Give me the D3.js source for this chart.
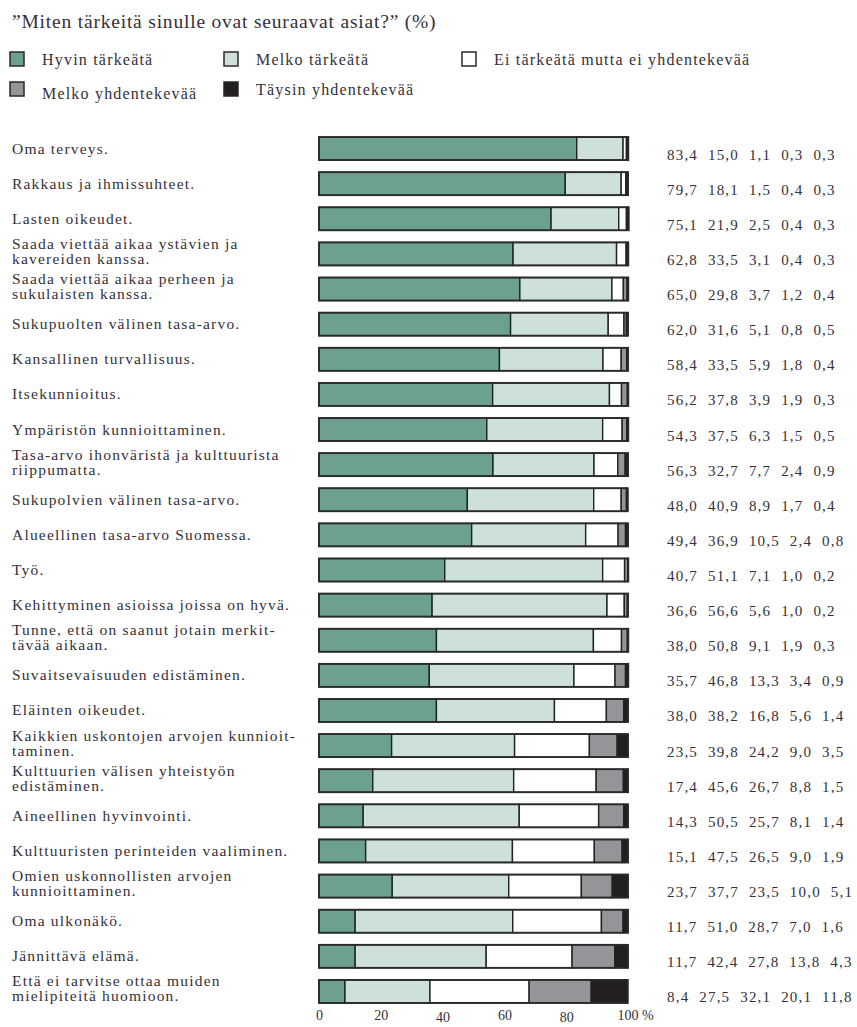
<!DOCTYPE html>
<html>
<head>
<meta charset="utf-8">
<script src="https://cdn.jsdelivr.net/npm/d3@7"></script>
<style>
  body { margin: 0; background: #fff; }
  text { font-family: "Liberation Serif", "DejaVu Serif", serif; fill: #35303a; }
</style>
</head>
<body>
<svg id="chart" width="857" height="1027"></svg>
<script>
// question items, "\n" marks the line break used in the original
const categories = [
  "Oma terveys.",
  "Rakkaus ja ihmissuhteet.",
  "Lasten oikeudet.",
  "Saada viettää aikaa ystävien ja\nkavereiden kanssa.",
  "Saada viettää aikaa perheen ja\nsukulaisten kanssa.",
  "Sukupuolten välinen tasa-arvo.",
  "Kansallinen turvallisuus.",
  "Itsekunnioitus.",
  "Ympäristön kunnioittaminen.",
  "Tasa-arvo ihonväristä ja kulttuurista\nriippumatta.",
  "Sukupolvien välinen tasa-arvo.",
  "Alueellinen tasa-arvo Suomessa.",
  "Työ.",
  "Kehittyminen asioissa joissa on hyvä.",
  "Tunne, että on saanut jotain merkit-\ntävää aikaan.",
  "Suvaitsevaisuuden edistäminen.",
  "Eläinten oikeudet.",
  "Kaikkien uskontojen arvojen kunnioit-\ntaminen.",
  "Kulttuurien välisen yhteistyön\nedistäminen.",
  "Aineellinen hyvinvointi.",
  "Kulttuuristen perinteiden vaaliminen.",
  "Omien uskonnollisten arvojen\nkunnioittaminen.",
  "Oma ulkonäkö.",
  "Jännittävä elämä.",
  "Että ei tarvitse ottaa muiden\nmielipiteitä huomioon."
];

const hyvinTarkeata = [83.4, 79.7, 75.1, 62.8, 65.0, 62.0, 58.4, 56.2, 54.3, 56.3, 48.0, 49.4, 40.7,
  36.6, 38.0, 35.7, 38.0, 23.5, 17.4, 14.3, 15.1, 23.7, 11.7, 11.7, 8.4];
const melkoTarkeata = [15.0, 18.1, 21.9, 33.5, 29.8, 31.6, 33.5, 37.8, 37.5, 32.7, 40.9, 36.9, 51.1,
  56.6, 50.8, 46.8, 38.2, 39.8, 45.6, 50.5, 47.5, 37.7, 51.0, 42.4, 27.5];
const eiTarkeata = [1.1, 1.5, 2.5, 3.1, 3.7, 5.1, 5.9, 3.9, 6.3, 7.7, 8.9, 10.5, 7.1,
  5.6, 9.1, 13.3, 16.8, 24.2, 26.7, 25.7, 26.5, 23.5, 28.7, 27.8, 32.1];
const melkoYhdentekevaa = [0.3, 0.4, 0.4, 0.4, 1.2, 0.8, 1.8, 1.9, 1.5, 2.4, 1.7, 2.4, 1.0,
  1.0, 1.9, 3.4, 5.6, 9.0, 8.8, 8.1, 9.0, 10.0, 7.0, 13.8, 20.1];
const taysinYhdentekevaa = [0.3, 0.3, 0.3, 0.3, 0.4, 0.5, 0.4, 0.3, 0.5, 0.9, 0.4, 0.8, 0.2,
  0.2, 0.3, 0.9, 1.4, 3.5, 1.5, 1.4, 1.9, 5.1, 1.6, 4.3, 11.8];

const seriesNames = ["Hyvin tärkeätä", "Melko tärkeätä", "Ei tärkeätä mutta ei yhdentekevää",
  "Melko yhdentekevää", "Täysin yhdentekevää"];
const seriesColors = ["#6ca091", "#cde0da", "#ffffff", "#939598", "#231f20"];
const xTicks = [0, 20, 40, 60, 80, 100];

const title = "”Miten tärkeitä sinulle ovat seuraavat asiat?” (%)";

// build rows for d3.stack
const keys = seriesNames;
const allSeries = [hyvinTarkeata, melkoTarkeata, eiTarkeata, melkoYhdentekevaa, taysinYhdentekevaa];
const rows = categories.map((c, i) => {
  const r = { label: c };
  keys.forEach((k, j) => r[k] = allSeries[j][i]);
  return r;
});

const svg = d3.select("#chart");

const x = d3.scaleLinear().domain([0, 100]).range([319, 628]);
const y = d3.scaleBand()
  .domain(categories)
  .range([131, 1009])
  .paddingInner(0.345)
  .paddingOuter(0.1725);

const color = d3.scaleOrdinal().domain(keys).range(seriesColors);

// title
svg.append("text")
  .attr("x", 12)
  .attr("y", 28)
  .style("font-size", "19.5px")
  .style("letter-spacing", "0.8px")
  .text(title);

// legend, two rows
const legendPos = [
  { col: 0, row: 0 }, { col: 1, row: 0 }, { col: 2, row: 0 },
  { col: 0, row: 1 }, { col: 1, row: 1 }
];
const legendX = [10, 224, 462];
const legend = svg.append("g").attr("class", "legend");
keys.forEach((k, i) => {
  const p = legendPos[i];
  const g = legend.append("g")
    .attr("transform", `translate(${legendX[p.col]},${52 + p.row * 30})`);
  g.append("rect")
    .attr("width", 14)
    .attr("height", 14)
    .attr("fill", color(k))
    .attr("stroke", "#2a2a2a")
    .attr("stroke-width", 1.5);
  g.append("text")
    .attr("x", 32)
    .attr("y", 13 + (i === 3 ? 4 : 0))
    .style("font-size", "16px")
    .style("letter-spacing", "1.2px")
    .text(k);
});

// stacked bars
const stacked = d3.stack().keys(keys)(rows);

const bars = svg.append("g").attr("class", "bars");
bars.selectAll("g")
  .data(stacked)
  .join("g")
  .attr("fill", d => color(d.key))
  .selectAll("rect")
  .data(d => d)
  .join("rect")
  .attr("x", d => x(d[0]))
  .attr("y", d => y(d.data.label))
  .attr("width", d => x(d[1]) - x(d[0]))
  .attr("height", y.bandwidth())
  .attr("stroke", "#222")
  .attr("stroke-width", 1.4);

// outer frame of each bar
bars.selectAll("rect.frame")
  .data(rows)
  .join("rect")
  .attr("class", "frame")
  .attr("x", x(0))
  .attr("y", d => y(d.label))
  .attr("width", d => x(d3.sum(keys, k => d[k])) - x(0))
  .attr("height", y.bandwidth())
  .attr("fill", "none")
  .attr("stroke", "#2a2a2a")
  .attr("stroke-width", 1.8);

// category labels
const labels = svg.append("g").attr("class", "labels");
labels.selectAll("text")
  .data(rows)
  .join("text")
  .attr("x", 12)
  .attr("y", d => y(d.label) + y.bandwidth() / 2)
  .style("font-size", "15.5px")
  .style("letter-spacing", "1.2px")
  .each(function(d) {
    const lines = d.label.split("\n");
    const t = d3.select(this);
    lines.forEach((line, i) => {
      t.append("tspan")
        .attr("x", 12)
        .attr("dy", i === 0 ? (lines.length > 1 ? -5 : 5) : 15)
        .text(line);
    });
  });

// value strings at right
const fmt = v => d3.format(".1f")(v).replace(".", ",");
svg.append("g").attr("class", "values")
  .selectAll("text")
  .data(rows)
  .join("text")
  .attr("x", 667)
  .attr("y", d => y(d.label) + y.bandwidth() / 2 + 11)
  .style("font-size", "15px")
  .style("letter-spacing", "1.2px")
  .style("white-space", "pre")
  .text(d => keys.map(k => fmt(d[k])).join("  "));

// x axis, labels only
const axis = svg.append("g")
  .attr("transform", `translate(0,${y.range()[1] - 5})`)
  .call(d3.axisBottom(x)
    .tickValues(xTicks)
    .tickSize(0)
    .tickPadding(6)
    .tickFormat(d => d === 100 ? "100 %" : d));
axis.select(".domain").remove();
axis.selectAll("text")
  .style("font-family", "\"Liberation Serif\", serif")
  .style("font-size", "14px")
  .attr("fill", "#35303a")
  .attr("dy", d => (d === 40 || d === 80) ? "0.85em" : "0.71em");
axis.selectAll(".tick:last-of-type text")
  .attr("text-anchor", "start")
  .attr("dx", "-11");
</script>
</body>
</html>
